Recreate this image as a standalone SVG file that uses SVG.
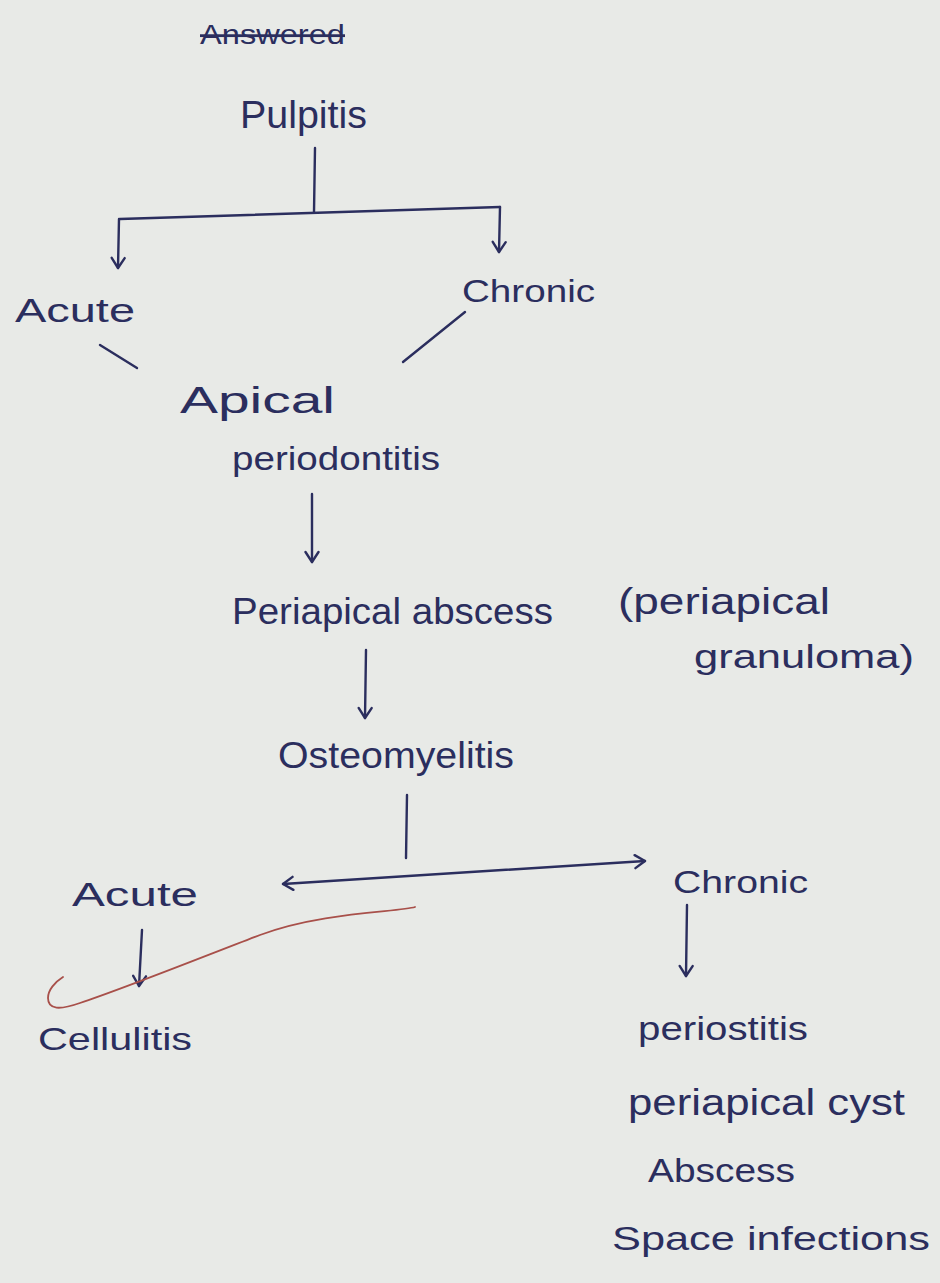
<svg xmlns="http://www.w3.org/2000/svg" width="940" height="1283" viewBox="0 0 940 1283">
<style>
  .t { font-family: "Liberation Sans", "DejaVu Sans", sans-serif; fill: #2b2e5e; }
  .c { fill: none; stroke: #2b2e5e; stroke-width: 2.4; stroke-linecap: round; stroke-linejoin: round; }
</style>
<defs>
  <marker id="ah" viewBox="-12 -8 14 16" refX="0" refY="0" markerWidth="14" markerHeight="16" markerUnits="userSpaceOnUse" orient="auto-start-reverse">
    <path d="M -10 -6.5 L 0 0 L -10 6.5" fill="none" stroke="#2b2e5e" stroke-width="2.4" stroke-linecap="round" stroke-linejoin="round"/>
  </marker>
</defs>
<rect x="0" y="0" width="940" height="1283" fill="#e8eae7"/>

<g id="connectors">
  <path class="c" d="M 315 148 L 314 212"/>
  <path class="c" d="M 120 219 L 500 207"/>
  <path class="c" d="M 119 219 L 118 268" marker-end="url(#ah)"/>
  <path class="c" d="M 500 207 L 499 252" marker-end="url(#ah)"/>
  <path class="c" d="M 100 345 L 137 368"/>
  <path class="c" d="M 465 312 L 403 362"/>
  <path class="c" d="M 312 494 L 312 562" marker-end="url(#ah)"/>
  <path class="c" d="M 366 650 L 365 718" marker-end="url(#ah)"/>
  <path class="c" d="M 407 795 L 406 858"/>
  <path class="c" d="M 283 884 L 645 861" marker-start="url(#ah)" marker-end="url(#ah)"/>
  <path class="c" d="M 142 930 L 139 986" marker-end="url(#ah)"/>
  <path class="c" d="M 687 905 L 686 976" marker-end="url(#ah)"/>
  <path d="M 415 907 C 400 912 320 912 260 935 C 200 958 120 990 80 1003 C 60 1010 48 1010 48 998 C 48 990 55 982 63 977" fill="none" stroke="#a8504a" stroke-width="1.8" stroke-linecap="round"/>
</g>

<g id="answered"><text class="t" x="200" y="44" font-size="28" textLength="145" lengthAdjust="spacingAndGlyphs" style="text-decoration: line-through">Answered</text></g>
<g id="pulpitis"><text class="t" x="240" y="128" font-size="38" textLength="127" lengthAdjust="spacingAndGlyphs">Pulpitis</text></g>
<g id="acute1"><text class="t" x="15" y="322" font-size="34" textLength="120" lengthAdjust="spacingAndGlyphs">Acute</text></g>
<g id="chronic1"><text class="t" x="462" y="302" font-size="32" textLength="133" lengthAdjust="spacingAndGlyphs">Chronic</text></g>
<g id="apical">
  <text class="t" x="180" y="413" font-size="36" textLength="155" lengthAdjust="spacingAndGlyphs">Apical</text>
  <text class="t" x="232" y="470" font-size="34" textLength="208" lengthAdjust="spacingAndGlyphs">periodontitis</text>
</g>
<g id="abscess"><text class="t" x="232" y="624" font-size="36" textLength="321" lengthAdjust="spacingAndGlyphs">Periapical abscess</text></g>
<g id="granuloma">
  <text class="t" x="618" y="614" font-size="36" textLength="212" lengthAdjust="spacingAndGlyphs">(periapical</text>
  <text class="t" x="694" y="668" font-size="34" textLength="220" lengthAdjust="spacingAndGlyphs">granuloma)</text>
</g>
<g id="osteomyelitis"><text class="t" x="278" y="768" font-size="36" textLength="236" lengthAdjust="spacingAndGlyphs">Osteomyelitis</text></g>
<g id="acute2"><text class="t" x="72" y="906" font-size="34" textLength="126" lengthAdjust="spacingAndGlyphs">Acute</text></g>
<g id="chronic2"><text class="t" x="673" y="893" font-size="32" textLength="135" lengthAdjust="spacingAndGlyphs">Chronic</text></g>
<g id="cellulitis"><text class="t" x="38" y="1050" font-size="32" textLength="154" lengthAdjust="spacingAndGlyphs">Cellulitis</text></g>
<g id="chronic-list">
  <text class="t" x="638" y="1040" font-size="34" textLength="170" lengthAdjust="spacingAndGlyphs">periostitis</text>
  <text class="t" x="628" y="1115" font-size="36" textLength="277" lengthAdjust="spacingAndGlyphs">periapical cyst</text>
  <text class="t" x="648" y="1182" font-size="34" textLength="147" lengthAdjust="spacingAndGlyphs">Abscess</text>
  <text class="t" x="612" y="1250" font-size="34" textLength="318" lengthAdjust="spacingAndGlyphs">Space infections</text>
</g>
</svg>
